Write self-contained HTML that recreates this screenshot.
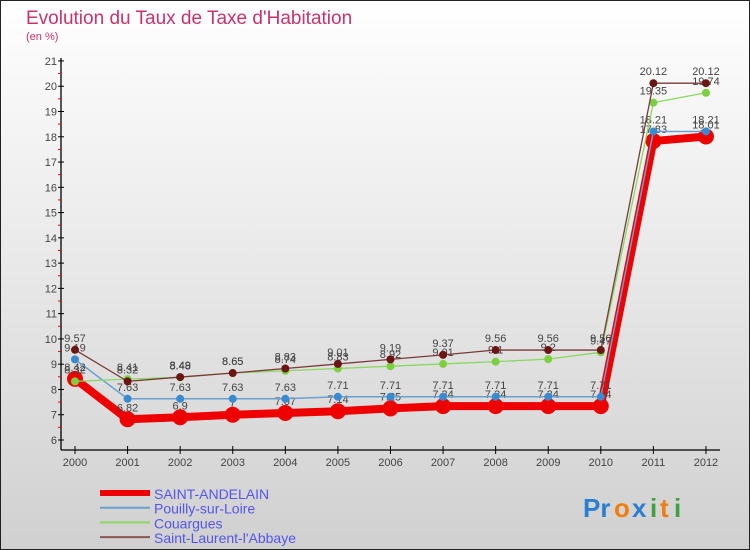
<!DOCTYPE html>
<html><head><meta charset="utf-8"><style>
body{margin:0;width:750px;height:550px;overflow:hidden;font-family:"Liberation Sans",sans-serif}
svg{display:block}
</style></head><body>
<svg id="chart" width="750" height="550" viewBox="0 0 750 550">
<defs><linearGradient id="bg" x1="0" y1="0" x2="0" y2="1"><stop offset="0" stop-color="#ffffff"/><stop offset="1" stop-color="#d0d0d0"/></linearGradient></defs>
<rect x="0.5" y="0.5" width="749" height="549" fill="url(#bg)" stroke="#222"/>
<text x="26" y="24" font-size="19" fill="#c8346a">Evolution du Taux de Taxe d'Habitation</text>
<text x="26" y="40" font-size="11" fill="#c8346a">(en %)</text>
<g id="axes"></g><g id="series"></g><g id="legend"></g>
<g font-size="26" font-weight="bold">
<text x="583" y="517" fill="#2a7fd0">Pr</text><text x="614" y="517" fill="#f07d10">o</text><text x="632" y="517" fill="#2a7fd0">x</text><text x="650" y="517" fill="#40a040">i</text><text x="660" y="517" fill="#f07d10">t</text><text x="674" y="517" fill="#40a040">i</text>
</g>
</svg>
<script>
const years=["2000","2001","2002","2003","2004","2005","2006","2007","2008","2009","2010","2011","2012"];
const yTicks=[6,7,8,9,10,11,12,13,14,15,16,17,18,19,20,21];
const names=["SAINT-ANDELAIN","Pouilly-sur-Loire","Couargues","Saint-Laurent-l'Abbaye"];
const saintAndelain=[8.42,6.82,6.9,7,7.07,7.14,7.25,7.34,7.34,7.34,7.34,17.83,18.01];
const pouilly=[9.19,7.63,7.63,7.63,7.63,7.71,7.71,7.71,7.71,7.71,7.71,18.21,18.21];
const couargues=[8.32,8.41,8.48,8.65,8.74,8.83,8.92,9.01,9.1,9.2,9.47,19.35,19.74];
const saintLaurent=[9.57,8.32,8.49,8.65,8.83,9.01,9.19,9.37,9.56,9.56,9.56,20.12,20.12];
const NS="http://www.w3.org/2000/svg";
const X=i=>75+i*52.58;
const Y=v=>440-(v-6)*25.27;
function mk(t,a,p){const e=document.createElementNS(NS,t);for(const k in a)e.setAttribute(k,a[k]);p.appendChild(e);return e;}
const ax=document.getElementById('axes');
let e=mk('line',{x1:61,y1:58,x2:61,y2:450,stroke:'#000','stroke-width':1.3},ax);


e=mk('line',{x1:61,y1:450,x2:720,y2:450,stroke:'#000','stroke-width':1.3},ax);


yTicks.forEach((v,i)=>{
 mk('line',{x1:58,y1:Y(v),x2:64,y2:Y(v),stroke:'#000'},ax);
 if(i<yTicks.length-1)mk('line',{x1:58,y1:Y(v+0.5),x2:61,y2:Y(v+0.5),stroke:'#e00'},ax);
 const t=mk('text',{x:57,y:Y(v)+4,'font-size':11,fill:'#444','text-anchor':'end'},ax);t.textContent=v;
 
 
});
years.forEach((y,i)=>{
 mk('line',{x1:X(i),y1:446,x2:X(i),y2:454,stroke:'#000'},ax);
 const t=mk('text',{x:X(i),y:466,'font-size':11,fill:'#444','text-anchor':'middle'},ax);t.textContent=y;
 
 
});
const sg=document.getElementById('series');
const specs=[
 [saintLaurent,'#7a3a3a','#6b1515',1.3,4,'series-saint-laurent'],
 [couargues,'#8ad860','#7cd040',1.3,4,'series-couargues'],
 [pouilly,'#6aa0d0','#3a8ad0',1.5,4,'series-pouilly'],
 [saintAndelain,'#ee0000','#ee0000',8,8,'series-saint-andelain']];
[specs[3],specs[2],specs[1],specs[0]].forEach(s=>{
 const g=mk('g',{},sg);
 
 
 mk('polyline',{points:s[0].map((v,i)=>X(i)+','+Y(v)).join(' '),fill:'none',stroke:s[1],'stroke-width':s[3],'stroke-linejoin':'round'},g);
 s[0].forEach((v,i)=>{
  const c=mk('circle',{cx:X(i),cy:Y(v),r:s[4],fill:s[2]},g);
  
  
  const t=mk('text',{x:X(i),y:Y(v)-8,'font-size':11,fill:'#444','text-anchor':'middle'},g);t.textContent=v;
  
  
 });
});
const lg=document.getElementById('legend');
const lc=[['#ee0000',6],['#6aa0d0',2],['#8ad860',2],['#8a5555',2]];
names.forEach((n,i)=>{
 const g=mk('g',{},lg);
 
 
 const y=493+i*14.7;
 mk('line',{x1:100,y1:y,x2:150,y2:y,stroke:lc[i][0],'stroke-width':lc[i][1]},g);
 const t=mk('text',{x:154,y:y+6,'font-size':14,fill:'#5555ee'},g);t.textContent=n;
});
</script>
</body></html>
